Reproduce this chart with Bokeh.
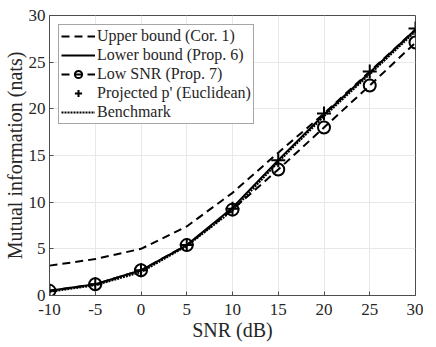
from bokeh.plotting import figure
from bokeh.models import FixedTicker, Legend, LegendItem, Range1d
from bokeh.embed import file_html
from bokeh.resources import INLINE

snr = [-10, -5, 0, 5, 10, 15, 20, 25, 30]
upper_bound = [3.2, 3.9, 5.0, 7.4, 11.0, 15.3, 19.5, 24.0, 28.5]
lower_bound = [0.5, 1.2, 2.7, 5.4, 9.4, 14.5, 19.4, 23.9, 28.5]
low_snr = [0.5, 1.2, 2.7, 5.4, 9.2, 13.5, 18.0, 22.5, 27.1]
projected = [0.5, 1.2, 2.7, 5.4, 9.3, 14.5, 19.5, 24.0, 28.6]
benchmark = [0.4, 1.1, 2.5, 5.3, 9.1, 14.3, 19.2, 23.7, 28.3]

x_ticks = [-10, -5, 0, 5, 10, 15, 20, 25, 30]
y_ticks = [0, 5, 10, 15, 20, 25, 30]

FONT = "Liberation Serif"
AX = "#4d4d4d"
TXT = "#262626"

p = figure(frame_width=366, frame_height=280, output_backend="svg", toolbar_location=None,
           x_range=Range1d(-10, 30), y_range=Range1d(0, 30),
           min_border_left=44, min_border_right=8, min_border_top=15, min_border_bottom=40)
p.outline_line_color = AX
p.outline_line_width = 1
p.background_fill_color = "white"

for ax in [p.xaxis[0], p.yaxis[0]]:
    ax.major_label_text_font = FONT
    ax.major_label_text_font_size = "17px"
    ax.major_label_text_color = TXT
    ax.axis_label_text_font = FONT
    ax.axis_label_text_font_size = "20px"
    ax.axis_label_text_font_style = "normal"
    ax.axis_label_text_color = TXT
    ax.axis_line_color = AX
    ax.major_tick_line_color = AX
    ax.major_tick_in = 4
    ax.major_tick_out = 0
    ax.minor_tick_line_color = None

p.yaxis[0].major_label_standoff = 4
p.yaxis[0].axis_label_standoff = 0
p.xaxis[0].major_label_standoff = 8
p.xaxis[0].axis_label_standoff = 1

p.xaxis[0].ticker = FixedTicker(ticks=x_ticks)
p.yaxis[0].ticker = FixedTicker(ticks=y_ticks)
p.xaxis[0].major_label_overrides = {t: str(t) for t in x_ticks}
p.xaxis[0].axis_label = "SNR (dB)"
p.yaxis[0].axis_label = "Mutual information (nats)"

p.xgrid.ticker = FixedTicker(ticks=x_ticks)
p.ygrid.ticker = FixedTicker(ticks=y_ticks)
p.grid.grid_line_color = "#e8e8e8"
p.grid.grid_line_width = 1

r_up = p.line(snr, upper_bound, line_color="black", line_width=2, line_dash="8 5")
r_lo = p.line(snr, lower_bound, line_color="black", line_width=2)
r_ls_line = p.line(snr, low_snr, line_color="black", line_width=2, line_dash="8 5")
r_ls_mk = p.scatter(snr, low_snr, marker="circle", size=12, line_color="black",
                    line_width=2, fill_color=None)
r_pr = p.scatter(snr, projected, marker="cross", size=14, line_color="black", line_width=2)
r_bm = p.line(snr, benchmark, line_color="black", line_width=2, line_dash="2 1")

legend = Legend(items=[
    LegendItem(label="Upper bound (Cor. 1)", renderers=[r_up]),
    LegendItem(label="Lower bound (Prop. 6)", renderers=[r_lo]),
    LegendItem(label="Low SNR (Prop. 7)", renderers=[r_ls_line, r_ls_mk]),
    LegendItem(label="Projected p' (Euclidean)", renderers=[r_pr]),
    LegendItem(label="Benchmark", renderers=[r_bm]),
], location="top_left")
legend.margin = 9
legend.padding = 2
legend.spacing = 1
legend.label_height = 18
legend.glyph_height = 18
legend.glyph_width = 34
legend.label_standoff = 2
legend.label_text_font = FONT
legend.label_text_font_size = "16px"
legend.label_text_color = TXT
legend.border_line_color = AX
legend.border_line_width = 1
legend.background_fill_color = "white"
legend.background_fill_alpha = 1
p.add_layout(legend, "center")

open("out.html", "w").write(file_html(p, INLINE))
